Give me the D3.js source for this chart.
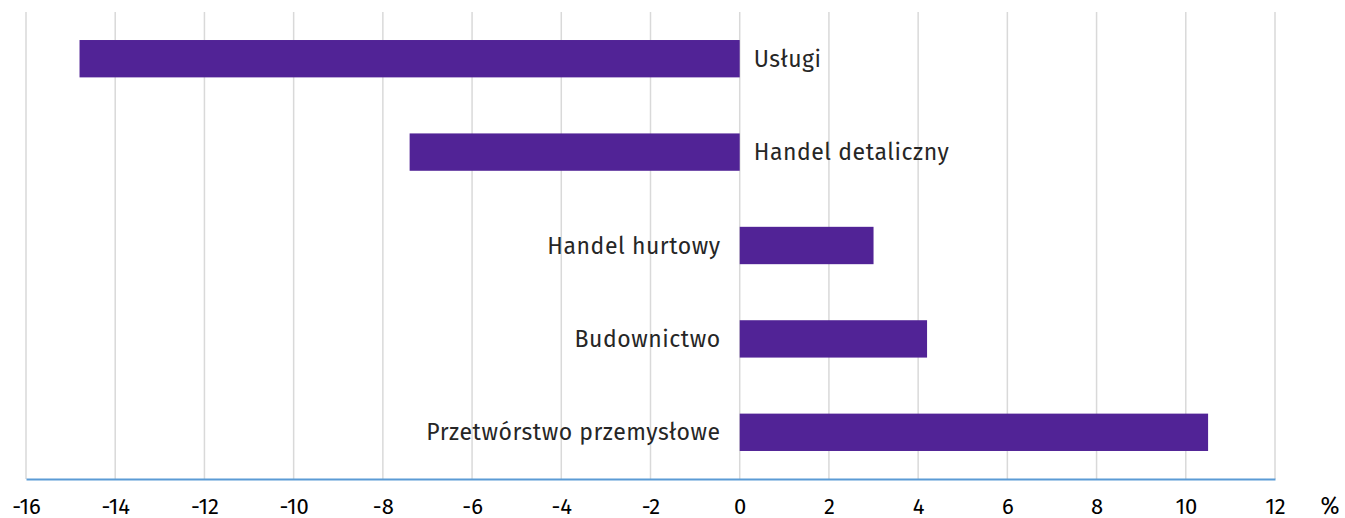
<!DOCTYPE html>
<html>
<head>
<meta charset="utf-8">
<script src="https://cdn.jsdelivr.net/npm/d3@7"></script>
<style>
  html, body { margin: 0; padding: 0; background: #fff; }
  text { font-family: "Fira Sans", "Noto Sans", sans-serif; }
</style>
</head>
<body>
<div id="chart"></div>
<script>
// Data
const categories = ["Usługi", "Handel detaliczny", "Handel hurtowy", "Budownictwo", "Przetwórstwo przemysłowe"];
const values = [-14.8, -7.4, 3.0, 4.2, 10.5];
const xTicks = [-16, -14, -12, -10, -8, -6, -4, -2, 0, 2, 4, 6, 8, 10, 12];
const unitLabel = "%";

const fullWidth = 1345;
const fullHeight = 518;
const margin = { top: 12, right: 70, bottom: 39, left: 26 };
const width = fullWidth - margin.left - margin.right;
const height = fullHeight - margin.top - margin.bottom;

const svg = d3.select("#chart")
  .append("svg")
  .attr("width", fullWidth)
  .attr("height", fullHeight)
  .append("g")
  .attr("transform", `translate(${margin.left},${margin.top})`);

// Scales
const xScale = d3.scaleLinear()
  .domain([-16, 12])
  .range([0, width]);

const yScale = d3.scaleBand()
  .domain(categories)
  .range([0, height])
  .paddingInner(0.6)
  .paddingOuter(0.3);

// Gridlines
svg.selectAll(".grid")
  .data(xTicks)
  .enter()
  .append("line")
  .attr("class", "grid")
  .attr("x1", d => xScale(d))
  .attr("x2", d => xScale(d))
  .attr("y1", 0)
  .attr("y2", height)
  .attr("stroke", "#d9d9d9")
  .attr("stroke-width", 1.5);

// Bars
const data = categories.map((c, i) => ({ name: c, value: values[i] }));

svg.selectAll(".bar")
  .data(data)
  .enter()
  .append("rect")
  .attr("class", "bar")
  .attr("x", d => xScale(Math.min(0, d.value)))
  .attr("width", d => Math.abs(xScale(d.value) - xScale(0)))
  .attr("y", d => yScale(d.name))
  .attr("height", yScale.bandwidth())
  .attr("fill", "#512396");

// Category labels next to the zero line
svg.selectAll(".label")
  .data(data)
  .enter()
  .append("text")
  .attr("class", "label")
  .attr("x", d => d.value < 0 ? xScale(0) + 14 : xScale(0) - 19)
  .attr("y", d => yScale(d.name) + yScale.bandwidth() / 2)
  .attr("dy", "0.35em")
  .attr("text-anchor", d => d.value < 0 ? "start" : "end")
  .attr("font-size", 23)
  .attr("letter-spacing", 0.55)
  .attr("fill", "#262626")
  .text(d => d.name);

// X axis
const xAxis = svg.append("g")
  .attr("transform", `translate(0,${height})`)
  .call(d3.axisBottom(xScale)
    .tickValues(xTicks)
    .tickFormat(d => String(d))
    .tickSize(0)
    .tickPadding(19));

xAxis.select(".domain")
  .attr("stroke", "#5b9bd5")
  .attr("stroke-width", 2);

xAxis.selectAll("text")
  .attr("font-size", 22)
  .attr("fill", "#000");

svg.append("text")
  .attr("x", xScale(12) + 55)
  .attr("y", height + 19)
  .attr("dy", "0.71em")
  .attr("text-anchor", "middle")
  .attr("font-size", 23)
  .attr("fill", "#000")
  .text(unitLabel);
</script>
</body>
</html>
